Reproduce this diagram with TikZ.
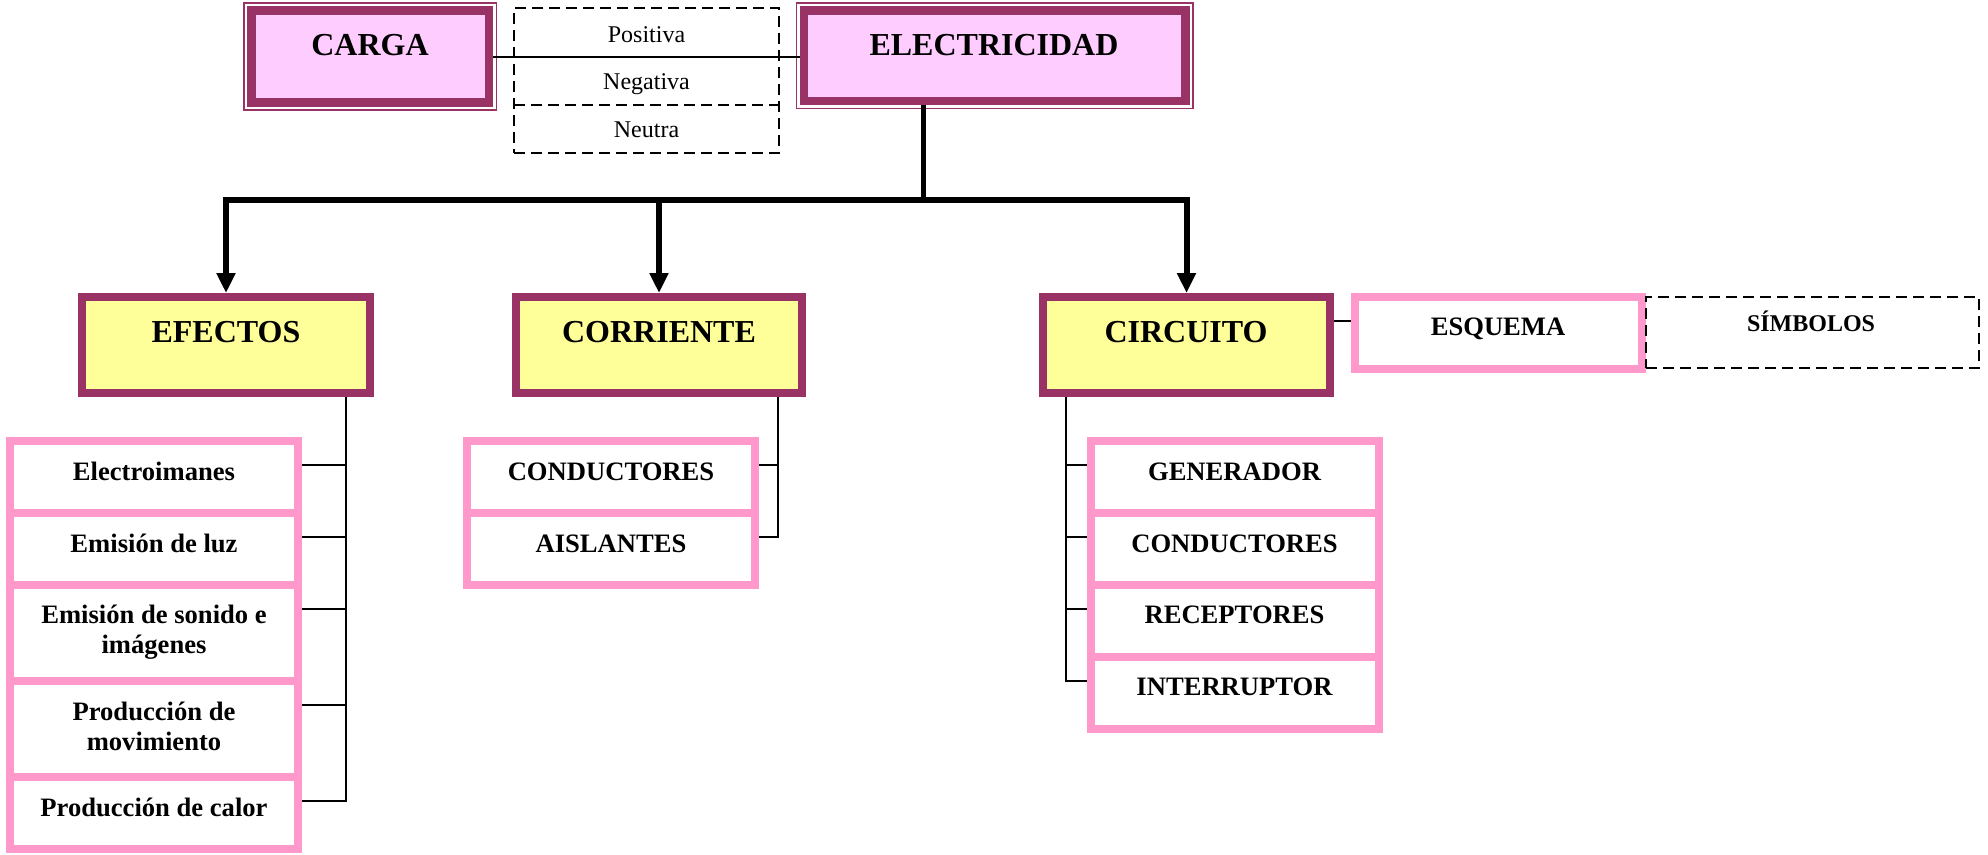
\documentclass[tikz,border=0pt]{standalone}
\usepackage{fontspec}
\setmainfont{Liberation Serif}
\usetikzlibrary{arrows.meta,calc}
\definecolor{plum}{HTML}{993366}
\definecolor{lilac}{HTML}{FFCCFF}
\definecolor{butter}{HTML}{FFFF99}
\definecolor{rose}{HTML}{FF99CC}
\begin{document}
\begin{tikzpicture}[x=1pt,y=-1pt,
  bigbox/.style={draw=plum,line width=8.5pt,fill=lilac,rectangle,inner sep=0pt,outer sep=4.25pt},
  midbox/.style={draw=plum,line width=8pt,fill=butter,rectangle,inner sep=0pt,outer sep=4pt},
  cellbox/.style={draw=rose,line width=8pt,fill=white,rectangle,inner sep=0pt,outer sep=4pt},
  dashline/.style={draw=black,line width=1.8pt,dash pattern=on 11pt off 6pt},
  dashbox/.style={dashline,rectangle,inner sep=0pt,outer sep=0pt},
  thinframe/.style={draw=plum,line width=1.5pt},
  bigtxt/.style={font=\bfseries\fontsize{32}{36}\selectfont,inner sep=0pt,anchor=base},
  celltxt/.style={font=\bfseries\fontsize{26.6}{30}\selectfont,inner sep=0pt,anchor=base,align=center},
  symtxt/.style={font=\bfseries\fontsize{24}{28}\selectfont,inner sep=0pt,anchor=base},
  smalltxt/.style={font=\fontsize{24}{28}\selectfont,inner sep=0pt,anchor=base},
  link/.style={draw=black,line width=2pt},
  trunk/.style={draw=black,line width=6pt},
  arr/.style={trunk,-{Triangle[width=18pt,length=20pt]}}
]
\useasboundingbox (0,0) rectangle (1988,854);

% top row
\node[dashbox,minimum width=265pt,minimum height=145pt] (signs) at (646.5,80.5) {};
\coordinate (sepa) at (0,57);
\coordinate (sepb) at (0,105);
\draw[dashline] (signs.west |- sepb) -- (signs.east |- sepb);
\draw[dashline] (signs.west |- sepa) -- (signs.east |- sepa);
\node[smalltxt] (post) at (646.5,42) {Positiva};
\node[smalltxt] (negt) at (646.5,89) {Negativa};
\node[smalltxt] (neut) at (646.5,137) {Neutra};

\node[bigbox,minimum width=237.5pt,minimum height=92pt] (carga) at (370.25,56.5) {};
\draw[thinframe] ([shift={(-3.25,-3.25)}]carga.north west) rectangle ([shift={(3.25,3.25)}]carga.south east);
\node[bigtxt] (cargat) at (370,55) {CARGA};

\node[bigbox,minimum width=381.5pt,minimum height=90.5pt] (elec) at (994.75,55.75) {};
\draw[thinframe] ([shift={(-3.25,-3.25)}]elec.north west) rectangle ([shift={(3.25,3.25)}]elec.south east);
\node[bigtxt] (elect) at (994,55) {ELECTRICIDAD};

\draw[link] (carga.east) -- (carga.east -| elec.west);

% second row
\node[midbox,minimum width=288pt,minimum height=96pt] (efectos) at (226,345) {};
\node[bigtxt] (efectost) at (226,342) {EFECTOS};
\node[midbox,minimum width=286pt,minimum height=96pt] (corriente) at (659,345) {};
\node[bigtxt] (corrientet) at (659,342) {CORRIENTE};
\node[midbox,minimum width=287pt,minimum height=96pt] (circuito) at (1186.5,345) {};
\node[bigtxt] (circuitot) at (1186,342) {CIRCUITO};

\node[cellbox,minimum width=287pt,minimum height=72pt] (esquema) at (1498.5,333) {};
\node[celltxt] (esquemat) at (1498,335) {ESQUEMA};
\node[dashbox,minimum width=333pt,minimum height=71pt] (simbolos) at (1812.5,332.5) {};
\node[symtxt] (simbolost) at (1811,331) {SÍMBOLOS};

\coordinate (cy) at (0,321);
\draw[link] (circuito.east |- cy) -- (esquema.west |- cy);

% trunk
\coordinate (hub) at (923,200);
\draw[black,line width=5pt] (hub |- elec.south) -- (hub);
\draw[trunk,line cap=rect] (efectos.north |- hub) -- (circuito.north |- hub);
\draw[arr] (efectos.north |- hub) -- (efectos.north);
\draw[arr] (corriente.north |- hub) -- (corriente.north);
\draw[arr] (circuito.north |- hub) -- (circuito.north);

% EFECTOS cells
\node[cellbox,minimum width=288pt,minimum height=72pt] (ef1) at (154,477) {};
\node[cellbox,minimum width=288pt,minimum height=72pt] (ef2) at (154,549) {};
\node[cellbox,minimum width=288pt,minimum height=96pt] (ef3) at (154,633) {};
\node[cellbox,minimum width=288pt,minimum height=96pt] (ef4) at (154,729) {};
\node[cellbox,minimum width=288pt,minimum height=72pt] (ef5) at (154,813) {};
\node[celltxt] (ef1t) at (154,480) {Electroimanes};
\node[celltxt] (ef2t) at (154,552) {Emisión de luz};
\node[celltxt] (ef3t) at (154,653) {Emisión de sonido e\\imágenes};
\node[celltxt] (ef4t) at (154,750) {Producción de\\movimiento};
\node[celltxt] (ef5t) at (154,816) {Producción de calor};

\coordinate (efsp) at (346,0);
\foreach \c in {ef1,ef2,ef3,ef4,ef5}{\coordinate (\c k) at ($(\c.north east)+(0,28)$);}
\draw[link] (efectos.south -| efsp) |- (ef5k);
\foreach \c in {ef1,ef2,ef3,ef4}{\draw[link] (\c k) -- (\c k -| efsp);}

% CORRIENTE cells
\node[cellbox,minimum width=288pt,minimum height=72pt] (co1) at (611,477) {};
\node[cellbox,minimum width=288pt,minimum height=72pt] (co2) at (611,549) {};
\node[celltxt] (co1t) at (611,480) {CONDUCTORES};
\node[celltxt] (co2t) at (611,552) {AISLANTES};
\coordinate (cosp) at (778,0);
\foreach \c in {co1,co2}{\coordinate (\c k) at ($(\c.north east)+(0,28)$);}
\draw[link] (corriente.south -| cosp) |- (co2k);
\draw[link] (co1k) -- (co1k -| cosp);

% CIRCUITO cells
\node[cellbox,minimum width=288pt,minimum height=72pt] (ci1) at (1234.5,477) {};
\node[cellbox,minimum width=288pt,minimum height=72pt] (ci2) at (1234.5,549) {};
\node[cellbox,minimum width=288pt,minimum height=72pt] (ci3) at (1234.5,621) {};
\node[cellbox,minimum width=288pt,minimum height=72pt] (ci4) at (1234.5,693) {};
\node[celltxt] (ci1t) at (1234.5,480) {GENERADOR};
\node[celltxt] (ci2t) at (1234.5,552) {CONDUCTORES};
\node[celltxt] (ci3t) at (1234.5,623) {RECEPTORES};
\node[celltxt] (ci4t) at (1234.5,695) {INTERRUPTOR};
\coordinate (cisp) at (1066,0);
\foreach \c in {ci1,ci2,ci3,ci4}{\coordinate (\c k) at ($(\c.north west)+(0,28)$);}
\draw[link] (circuito.south -| cisp) |- (ci4k);
\foreach \c in {ci1,ci2,ci3}{\draw[link] (\c k) -- (\c k -| cisp);}
\end{tikzpicture}
\end{document}
